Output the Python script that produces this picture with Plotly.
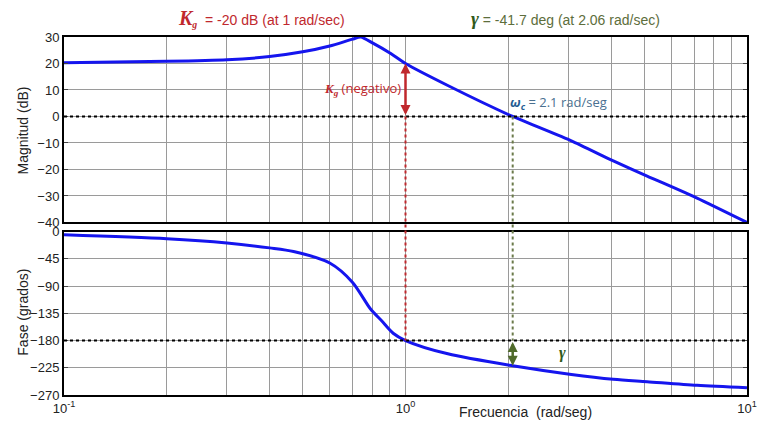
import numpy as np
import plotly.graph_objects as go
from plotly.subplots import make_subplots

# ---- data ----
w_mag = [0.1, 0.2, 0.3, 0.4, 0.5, 0.6, 0.7, 0.74, 0.8, 0.9, 1.0, 1.33, 2.06, 3.06, 4.06, 5.1, 7.14, 10]
mag_db = [20.3, 20.8, 21.4, 22.6, 24.4, 26.6, 29.2, 30.0, 27.8, 24.0, 20.0, 11.7, 0.0, -9.2, -16.8, -22.5, -30.8, -40.0]

w_ph = [0.1, 0.2, 0.3, 0.4, 0.47, 0.6, 0.7, 0.79, 0.85, 0.92, 1.0, 1.33, 2.06, 3.06, 4.06, 5.1, 7.14, 10]
phase_deg = [-5.5, -12, -19, -27, -33, -52, -84, -128, -147, -168, -180, -202, -221.7, -236, -244, -248, -254, -258]

w_gain_margin = 1.0
gain_at_wg = 20.0
w_cross = 2.06
phase_at_wc = -221.7

mag_ticks = [30, 20, 10, 0, -10, -20, -30, -40]
phase_ticks = [0, -45, -90, -135, -180, -225, -270]
x_major = [0.1, 1, 10]
x_major_text = ["10<sup>-1</sup>", "10<sup>0</sup>", "10<sup>1</sup>"]

RED = "#c0282d"
GREEN_T = "#5d6e3c"
GREEN_S = "#2f5a1a"
BLUE_T = "#4a7090"
BLUE_S = "#245c92"
LINE = "#1515ee"
GRID = "#9a9a9a"

W, H = 768, 427
ML, MR, MT, MB = 64, 11, 37, 28

top_dom = [0.482, 1.0]
bot_dom = [0.0, 0.4566]

fig = make_subplots(rows=2, cols=1, shared_xaxes=False)

fig.add_trace(go.Scatter(x=w_mag, y=mag_db, mode="lines",
                         line=dict(color=LINE, width=3, shape="spline", smoothing=0.6),
                         showlegend=False), row=1, col=1)
fig.add_trace(go.Scatter(x=w_ph, y=phase_deg, mode="lines",
                         line=dict(color=LINE, width=3, shape="spline", smoothing=0.8),
                         showlegend=False), row=2, col=1)

# grid tick values for log axis
xgrid = []
for dec in [0.1, 1]:
    for k in range(1, 10):
        xgrid.append(dec * k)
xgrid.append(10)
xtext_bottom = []
for v in xgrid:
    if v in x_major:
        xtext_bottom.append(x_major_text[x_major.index(v)])
    else:
        xtext_bottom.append("")

axis_common = dict(type="log", range=[-1, 1], tickvals=xgrid, showgrid=True,
                   gridcolor=GRID, gridwidth=1, showline=True, linecolor="black",
                   linewidth=2, mirror=True, ticks="", zeroline=False)

fig.update_layout(
    xaxis=dict(domain=[0, 1], anchor="y", ticktext=[""] * len(xgrid), **axis_common),
    xaxis2=dict(domain=[0, 1], anchor="y2", ticktext=xtext_bottom,
                tickfont=dict(size=13, color="#222"), **axis_common),
    yaxis=dict(domain=top_dom, range=[-40, 30], tickvals=mag_ticks, showgrid=True,
               gridcolor=GRID, showline=True, linecolor="black", linewidth=2,
               mirror="ticks", ticks="inside", ticklen=4, zeroline=False,
               tickfont=dict(size=13, color="#222")),
    yaxis2=dict(domain=bot_dom, range=[-270, 0], tickvals=phase_ticks, showgrid=True,
                gridcolor=GRID, showline=True, linecolor="black", linewidth=2,
                mirror="ticks", ticks="inside", ticklen=4, zeroline=False,
                tickfont=dict(size=13, color="#222")),
)

def top_paper(v):
    return top_dom[0] + (v + 40) / 70 * (top_dom[1] - top_dom[0])

def bot_paper(v):
    return bot_dom[0] + (v + 270) / 270 * (bot_dom[1] - bot_dom[0])

shapes = [
    dict(type="line", xref="x", yref="y", x0=0.1, x1=10, y0=0, y1=0,
         line=dict(color="black", width=2, dash="dot")),
    dict(type="line", xref="x2", yref="y2", x0=0.1, x1=10, y0=-180, y1=-180,
         line=dict(color="black", width=2, dash="dot")),
    dict(type="line", xref="x", yref="paper", x0=w_gain_margin, x1=w_gain_margin,
         y0=top_paper(0), y1=bot_paper(-180), line=dict(color=RED, width=2, dash="dot")),
    dict(type="line", xref="x", yref="paper", x0=w_cross, x1=w_cross,
         y0=top_paper(0), y1=bot_paper(-180), line=dict(color="#6b7a4a", width=2, dash="dot")),
]
fig.update_layout(shapes=shapes)

SERIF = "font-family:Liberation Serif"
lg = np.log10
ann = [
    dict(x=lg(w_gain_margin), y=gain_at_wg, ax=lg(w_gain_margin), ay=0, xref="x", yref="y",
         axref="x", ayref="y", text="", showarrow=True, arrowhead=2, startarrowhead=2,
         arrowside="end+start", arrowcolor=RED, arrowwidth=2.5, arrowsize=0.8, startarrowsize=0.8),
    dict(x=lg(w_cross), y=phase_at_wc, ax=lg(w_cross), ay=-180, xref="x2", yref="y2",
         axref="x2", ayref="y2", text="", showarrow=True, arrowhead=2, startarrowhead=2,
         arrowside="end+start", arrowcolor="#4f6a2a", arrowwidth=2.5, arrowsize=0.8, startarrowsize=0.8),
    dict(x=-0.006, y=10.6, xref="x", yref="y", xanchor="right", yanchor="middle", showarrow=False,
         text="<span style='%s'><b><i>K</i></b><sub><b><i>g</i></b></sub></span> (negativo)" % SERIF,
         font=dict(family="Open Sans", size=13, color=RED)),
    dict(x=0.30, y=5.2, xref="x", yref="y", xanchor="left", yanchor="middle", showarrow=False,
         text="<span style='color:%s'><b><i>ω<sub>c</sub></i></b></span> = 2.1 rad/seg" % BLUE_S,
         font=dict(family="Open Sans", size=13, color=BLUE_T)),
    dict(x=0.459, y=-200, xref="x2", yref="y2", xanchor="center", yanchor="middle", showarrow=False,
         text="<b><i>γ</i></b>", font=dict(family="Liberation Serif", size=16, color=GREEN_S)),
    dict(x=0.289, y=1.053, xref="paper", yref="paper", xanchor="center", yanchor="middle",
         showarrow=False,
         text="<span style='%s;font-size:20px'><b><i>K</i></b></span><span style='%s'><sub><b><i>g</i></b></sub></span>  = -20 dB (at 1 rad/sec)" % (SERIF, SERIF),
         font=dict(family="Liberation Sans", size=14, color=RED)),
    dict(x=0.734, y=1.053, xref="paper", yref="paper", xanchor="center", yanchor="middle",
         showarrow=False,
         text="<span style='%s;font-size:19px;color:%s'><b><i>γ</i></b></span> = -41.7 deg (at 2.06 rad/sec)" % (SERIF, GREEN_S),
         font=dict(family="Liberation Sans", size=14, color=GREEN_T)),
    dict(x=0.675, y=-0.048, xref="paper", yref="paper", xanchor="center", yanchor="middle",
         showarrow=False, text="Frecuencia  (rad/seg)",
         font=dict(family="Liberation Sans", size=14, color="#222")),
    dict(x=-0.060, y=0.739, xref="paper", yref="paper", xanchor="center", yanchor="middle",
         showarrow=False, text="Magnitud (dB)", textangle=-90,
         font=dict(family="Liberation Sans", size=14, color="#222")),
    dict(x=-0.060, y=0.230, xref="paper", yref="paper", xanchor="center", yanchor="middle",
         showarrow=False, text="Fase (grados)", textangle=-90,
         font=dict(family="Liberation Sans", size=14, color="#222")),
]
fig.update_layout(annotations=ann)

fig.update_layout(
    width=W, height=H,
    margin=dict(l=ML, r=MR, t=MT, b=MB),
    paper_bgcolor="white", plot_bgcolor="white",
    font=dict(family="Liberation Sans", size=13, color="#222"),
    showlegend=False,
)

post = (
    "document.documentElement.style.margin='0';"
    "document.body.style.margin='0';"
)
fig.write_html("out.html", config={"displayModeBar": False}, post_script=post)
